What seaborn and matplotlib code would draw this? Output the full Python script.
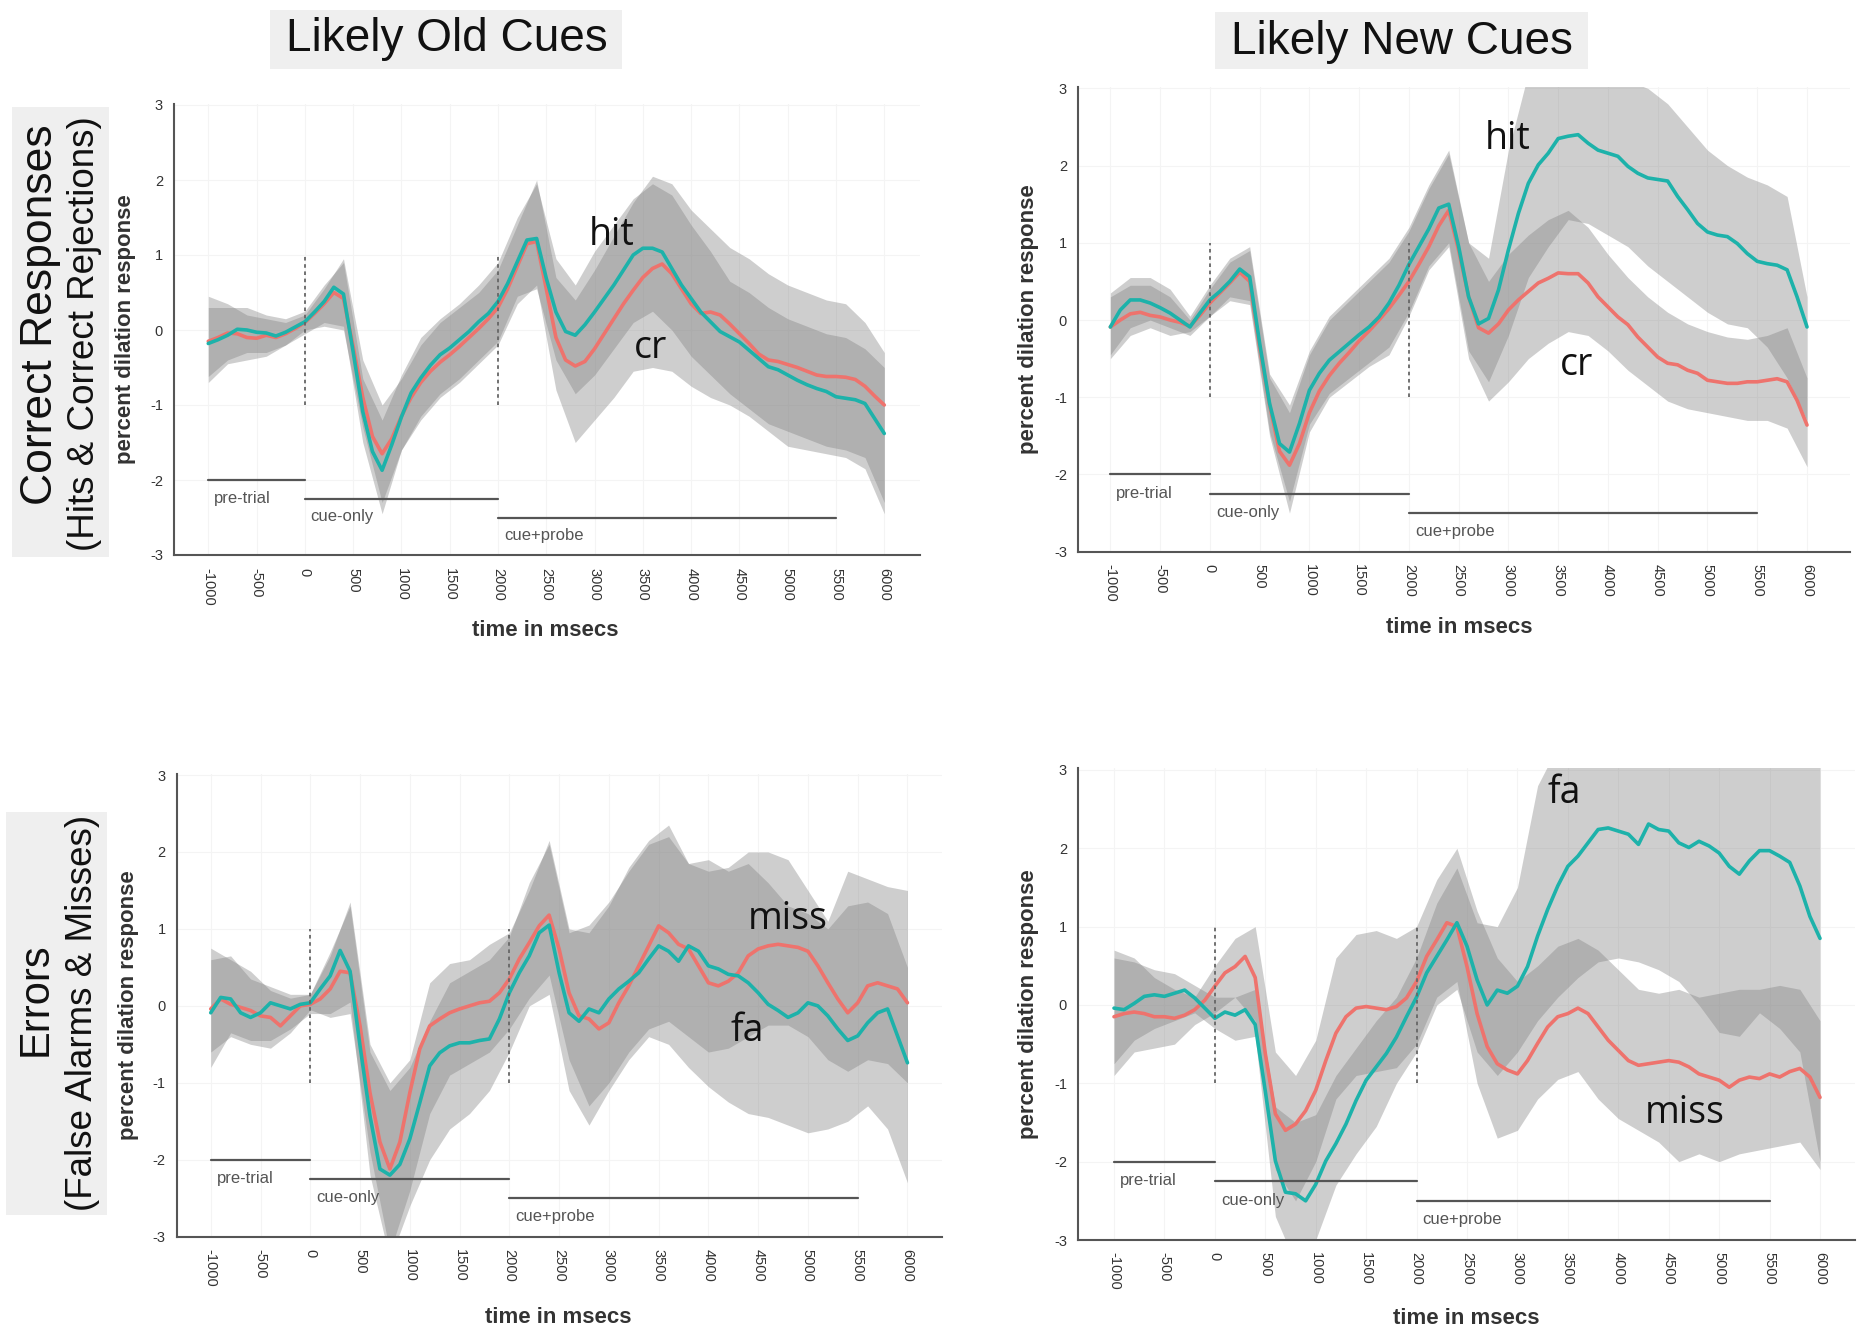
import numpy as np
import pandas as pd
import matplotlib
matplotlib.use("Agg")
import matplotlib.pyplot as plt
import seaborn as sns
from matplotlib.patches import Rectangle

sns.set_theme(style="white")
plt.rcParams['font.family'] = ['Liberation Sans', 'DejaVu Sans']

# ---------------- data ----------------
t_line = np.arange(-1000, 6001, 100)   # msec, mean traces
t_band = np.arange(-1000, 6001, 200)   # msec, confidence bands

# Likely Old cues - correct responses
old_hit = [-0.18,-0.13,-0.07,0.01,0.0,-0.03,-0.04,-0.08,-0.03,0.04,
           0.11,0.24,0.38,0.57,0.48,-0.29,-1.09,-1.62,-1.87,-1.53,
           -1.16,-0.84,-0.64,-0.47,-0.33,-0.24,-0.13,-0.02,0.11,0.22,
           0.38,0.62,0.91,1.2,1.22,0.69,0.24,-0.02,-0.07,0.07,
           0.24,0.42,0.6,0.8,1.0,1.09,1.09,1.04,0.82,0.6,
           0.42,0.24,0.11,-0.02,-0.09,-0.16,-0.27,-0.38,-0.49,-0.53,
           -0.6,-0.67,-0.73,-0.78,-0.82,-0.89,-0.91,-0.93,-0.98,-1.18,
           -1.38]
old_cr = [-0.15,-0.1,-0.04,-0.05,-0.1,-0.11,-0.07,-0.1,-0.05,0.02,
          0.1,0.22,0.35,0.5,0.42,-0.22,-0.9,-1.42,-1.65,-1.45,
          -1.15,-0.9,-0.7,-0.55,-0.43,-0.33,-0.22,-0.1,0.02,0.15,
          0.3,0.55,0.85,1.15,1.18,0.55,-0.1,-0.4,-0.48,-0.42,
          -0.25,-0.05,0.15,0.35,0.53,0.7,0.82,0.88,0.75,0.55,
          0.35,0.22,0.24,0.2,0.08,-0.05,-0.18,-0.32,-0.4,-0.42,
          -0.46,-0.5,-0.55,-0.6,-0.62,-0.62,-0.63,-0.66,-0.75,-0.88,
          -1.0]
old_hit_lo = [-0.62,-0.4,-0.3,-0.3,-0.2,-0.05,
              0.1,0.05,-1.5,-2.45,-1.6,-1.15,-0.85,-0.65,-0.4,-0.15,
              0.45,0.55,-0.4,-0.85,-0.6,-0.25,0.1,0.25,0.0,-0.35,-0.6,-0.85,-1.05,-1.25,-1.35,-1.45,-1.55,-1.6,-1.7,-2.3]
old_hit_hi = [0.3,0.3,0.3,0.2,0.15,0.25,
              0.6,0.9,-0.65,-1.2,-0.6,-0.1,0.15,0.35,0.6,0.9,
              1.5,1.95,0.95,0.6,1.05,1.4,1.75,1.95,1.8,1.4,1.05,0.65,0.5,0.3,0.15,0.05,-0.05,-0.1,-0.25,-0.5]
old_cr_lo = [-0.7,-0.45,-0.4,-0.35,-0.2,0.0,
             0.05,0.0,-1.3,-2.3,-1.6,-1.2,-0.9,-0.7,-0.45,-0.2,
             0.35,0.6,-0.8,-1.5,-1.2,-0.9,-0.55,-0.5,-0.55,-0.75,-0.9,-1.0,-1.15,-1.35,-1.55,-1.6,-1.65,-1.7,-1.85,-2.45]
old_cr_hi = [0.45,0.35,0.2,0.15,0.1,0.2,
             0.55,0.95,-0.4,-1.0,-0.65,-0.2,0.1,0.3,0.5,0.8,
             1.4,2.0,0.7,0.4,0.8,1.25,1.7,2.05,1.95,1.6,1.35,1.1,0.95,0.75,0.6,0.5,0.4,0.35,0.1,-0.3]

# Likely New cues - correct responses
new_hit = [-0.09,0.13,0.26,0.26,0.22,0.16,0.09,0.0,-0.09,0.09,
           0.26,0.37,0.5,0.66,0.56,-0.3,-1.08,-1.6,-1.71,-1.34,
           -0.91,-0.69,-0.52,-0.41,-0.3,-0.19,-0.09,0.04,0.22,0.45,
           0.72,0.95,1.18,1.45,1.5,0.95,0.3,-0.05,0.02,0.39,
           0.91,1.38,1.77,2.01,2.16,2.35,2.38,2.4,2.29,2.2,
           2.16,2.12,1.99,1.9,1.84,1.82,1.8,1.6,1.43,1.25,
           1.14,1.1,1.08,0.99,0.86,0.76,0.73,0.71,0.65,0.3,
           -0.09]
new_cr = [-0.09,0.0,0.08,0.1,0.06,0.04,0.0,-0.03,-0.08,0.06,
          0.22,0.35,0.48,0.62,0.5,-0.35,-1.1,-1.7,-1.88,-1.6,
          -1.2,-0.92,-0.72,-0.56,-0.42,-0.27,-0.14,0.0,0.15,0.32,
          0.5,0.72,0.95,1.22,1.42,0.9,0.3,-0.1,-0.17,-0.05,
          0.13,0.26,0.37,0.48,0.54,0.61,0.6,0.6,0.48,0.3,
          0.17,0.04,-0.06,-0.22,-0.35,-0.48,-0.56,-0.58,-0.65,-0.69,
          -0.78,-0.8,-0.82,-0.82,-0.8,-0.8,-0.78,-0.76,-0.8,-1.04,
          -1.36]
new_hit_lo = [-0.45,-0.1,0.0,-0.1,-0.2,0.05,
              0.3,0.25,-1.45,-2.35,-1.35,-0.95,-0.75,-0.55,-0.35,0.1,
              0.7,1.0,-0.4,-0.8,-0.2,0.55,0.95,1.3,1.25,1.1,0.95,0.7,0.5,0.3,0.1,-0.05,-0.1,-0.35,-0.75,-1.3]
new_hit_hi = [0.35,0.55,0.55,0.4,0.05,0.45,
              0.8,0.95,-0.7,-1.1,-0.4,0.05,0.3,0.55,0.8,1.2,
              1.75,2.2,1.0,0.8,2.2,3.2,3.5,3.5,3.4,3.3,3.1,3.0,2.8,2.5,2.2,2.0,1.85,1.75,1.6,0.3]
new_cr_lo = [-0.5,-0.2,-0.1,-0.2,-0.15,0.05,
             0.25,0.2,-1.5,-2.5,-1.45,-1.0,-0.8,-0.6,-0.45,0.05,
             0.65,0.95,-0.5,-1.05,-0.8,-0.5,-0.3,-0.15,-0.2,-0.4,-0.65,-0.85,-1.05,-1.15,-1.2,-1.25,-1.3,-1.3,-1.4,-1.9]
new_cr_hi = [0.3,0.45,0.45,0.3,0.0,0.4,
             0.75,0.9,-0.75,-1.2,-0.45,0.0,0.25,0.5,0.75,1.15,
             1.7,2.15,1.0,0.5,0.85,1.1,1.3,1.42,1.2,0.85,0.55,0.3,0.1,-0.05,-0.15,-0.22,-0.25,-0.2,-0.1,-0.75]

# Likely Old cues - errors
old_fa = [-0.09,0.11,0.09,-0.09,-0.15,-0.09,0.04,0.0,-0.04,0.02,
          0.04,0.22,0.39,0.72,0.45,-0.52,-1.43,-2.12,-2.2,-2.06,
          -1.73,-1.26,-0.78,-0.61,-0.52,-0.48,-0.48,-0.45,-0.43,-0.17,
          0.17,0.43,0.65,0.95,1.05,0.43,-0.09,-0.2,-0.04,-0.09,
          0.09,0.22,0.32,0.43,0.61,0.78,0.71,0.58,0.78,0.71,
          0.52,0.48,0.41,0.39,0.3,0.17,0.02,-0.06,-0.15,-0.09,
          0.04,0.0,-0.13,-0.3,-0.45,-0.39,-0.22,-0.09,-0.04,-0.39,
          -0.74]
old_miss = [-0.04,0.09,0.02,-0.02,-0.06,-0.13,-0.15,-0.26,-0.13,0.0,
            0.02,0.09,0.22,0.45,0.43,-0.26,-1.13,-1.77,-2.12,-1.77,
            -1.13,-0.56,-0.26,-0.17,-0.09,-0.04,0.0,0.04,0.06,0.17,
            0.35,0.61,0.82,1.04,1.18,0.74,0.17,-0.13,-0.17,-0.3,
            -0.22,0.04,0.26,0.52,0.78,1.04,0.95,0.8,0.74,0.52,
            0.3,0.26,0.32,0.43,0.65,0.74,0.78,0.8,0.78,0.76,
            0.71,0.52,0.3,0.09,-0.09,0.04,0.26,0.3,0.26,0.22,
            0.04]
old_fa_lo = [-0.8,-0.35,-0.45,-0.45,-0.3,-0.1,
             -0.1,0.05,-2.2,-3.3,-2.6,-2.0,-1.6,-1.4,-1.1,-0.6,
             0.0,0.15,-1.1,-1.55,-1.1,-0.7,-0.4,-0.5,-0.8,-1.05,-1.25,-1.4,-1.45,-1.55,-1.65,-1.6,-1.5,-1.3,-1.6,-2.3]
old_fa_hi = [0.6,0.65,0.35,0.25,0.15,0.15,
             0.7,1.3,-0.6,-1.1,-0.8,-0.2,0.3,0.45,0.6,0.9,
             1.6,2.1,0.95,1.05,1.35,1.75,2.1,2.2,1.85,1.9,1.75,1.85,1.6,1.3,1.2,1.0,1.3,1.35,1.2,0.5]
old_miss_lo = [-0.6,-0.4,-0.5,-0.55,-0.35,-0.05,
               -0.15,-0.1,-1.9,-3.2,-2.4,-1.4,-0.9,-0.75,-0.6,-0.3,
               0.1,0.4,-0.7,-1.3,-1.0,-0.6,-0.3,-0.2,-0.4,-0.6,-0.55,-0.4,-0.25,-0.25,-0.4,-0.7,-0.85,-0.7,-0.75,-1.0]
old_miss_hi = [0.75,0.6,0.45,0.2,0.1,0.15,
               0.65,1.35,-0.5,-1.0,-0.7,0.3,0.55,0.6,0.8,0.95,
               1.5,2.15,1.0,0.95,1.3,1.8,2.15,2.35,1.85,1.75,1.8,2.0,2.0,1.9,1.5,1.1,1.75,1.65,1.55,1.5]

# Likely New cues - errors
new_fa = [-0.04,-0.06,0.02,0.11,0.13,0.11,0.15,0.19,0.09,-0.04,
          -0.17,-0.09,-0.13,-0.06,-0.25,-1.1,-1.99,-2.39,-2.41,-2.5,
          -2.29,-1.99,-1.77,-1.52,-1.22,-0.96,-0.79,-0.62,-0.41,-0.15,
          0.1,0.41,0.62,0.83,1.05,0.75,0.32,0.0,0.19,0.15,
          0.24,0.49,0.88,1.22,1.52,1.77,1.9,2.07,2.24,2.26,
          2.22,2.18,2.05,2.31,2.24,2.22,2.07,2.01,2.09,2.03,
          1.94,1.77,1.67,1.84,1.97,1.97,1.9,1.82,1.52,1.13,
          0.85]
new_miss = [-0.15,-0.11,-0.09,-0.11,-0.15,-0.15,-0.17,-0.13,-0.06,0.06,
            0.24,0.41,0.49,0.62,0.35,-0.62,-1.39,-1.6,-1.52,-1.35,
            -1.09,-0.71,-0.36,-0.15,-0.04,-0.02,-0.04,-0.06,-0.02,0.09,
            0.3,0.62,0.83,1.05,1.0,0.49,-0.11,-0.53,-0.75,-0.83,
            -0.88,-0.71,-0.49,-0.28,-0.15,-0.11,-0.04,-0.11,-0.28,-0.45,
            -0.58,-0.71,-0.77,-0.75,-0.73,-0.71,-0.73,-0.79,-0.88,-0.92,
            -0.96,-1.05,-0.96,-0.92,-0.94,-0.88,-0.92,-0.85,-0.81,-0.92,
            -1.18]
new_fa_lo = [-0.75,-0.45,-0.3,-0.2,-0.1,-0.3,
             -0.45,-0.4,-2.7,-3.3,-3.0,-2.3,-1.9,-1.55,-1.0,-0.6,
             0.0,0.2,-0.6,-0.9,-0.6,-0.2,0.1,0.35,0.55,0.6,0.55,0.45,0.3,0.0,-0.35,-0.4,-0.1,-0.3,-0.6,-2.0]
new_fa_hi = [0.6,0.55,0.45,0.4,0.25,0.1,
             0.1,0.2,-1.3,-1.5,-1.4,-0.9,-0.55,-0.2,0.1,0.6,
             1.3,1.75,1.05,1.0,1.5,2.8,3.3,3.3,3.3,3.3,3.3,3.3,3.3,3.3,3.3,3.3,3.3,3.3,3.3,3.3]
new_miss_lo = [-0.9,-0.6,-0.55,-0.5,-0.25,-0.1,
               0.1,-0.2,-2.1,-2.5,-2.0,-1.2,-0.9,-0.85,-0.8,-0.5,
               0.1,0.3,-1.0,-1.7,-1.6,-1.2,-0.95,-0.85,-1.2,-1.45,-1.6,-1.75,-2.0,-1.9,-2.0,-1.9,-1.85,-1.8,-1.75,-2.1]
new_miss_hi = [0.7,0.6,0.35,0.2,0.1,0.5,
               0.85,1.0,-0.6,-0.9,-0.45,0.6,0.9,0.95,0.85,1.0,
               1.6,2.0,1.2,0.6,0.3,0.5,0.75,0.85,0.7,0.45,0.2,0.15,0.2,0.1,0.15,0.2,0.2,0.25,0.2,-0.2]

# trial phases
phase_names = ["pre-trial", "cue-only", "cue+probe"]
phase_start = [-1000, 0, 2000]
phase_end = [0, 2000, 5500]
phase_level = [-2.0, -2.25, -2.5]
onsets = [0, 2000]

x_ticks = np.arange(-1000, 6001, 500)
y_ticks = [-3, -2, -1, 0, 1, 2, 3]

col_titles = ["Likely Old Cues", "Likely New Cues"]
row_titles = [("Correct Responses", "(Hits & Correct Rejections)"),
              ("Errors", "(False Alarms & Misses)")]

# ---------------- style ----------------
RED = "#EE736D"
TEAL = "#1DB2AA"
BAND = "#808080"
W, H = 1858, 1333

fig = plt.figure(figsize=(W / 100, H / 100), dpi=100)

def fx(px):
    return px / W

def fy(py):
    return 1 - py / H

panels = [
    dict(box=(174, 103.5, 920, 555), xlim=(-1355, 6370),
         red=old_cr, teal=old_hit, rlo=old_cr_lo, rhi=old_cr_hi, tlo=old_hit_lo, thi=old_hit_hi,
         labels=[("hit", 3180, 1.27), ("cr", 3580, -0.24)], ylab=-0.051, xlab=(0.497, -0.144)),
    dict(box=(1078, 86.8, 1850, 551.7), xlim=(-1325, 6432),
         red=new_cr, teal=new_hit, rlo=new_cr_lo, rhi=new_cr_hi, tlo=new_hit_lo, thi=new_hit_hi,
         labels=[("hit", 2990, 2.34), ("cr", 3680, -0.58)], ylab=-0.0505, xlab=(0.4935, -0.141)),
    dict(box=(176.7, 773.5, 942, 1236.7), xlim=(-1342, 6347),
         red=old_miss, teal=old_fa, rlo=old_miss_lo, rhi=old_miss_hi, tlo=old_fa_lo, thi=old_fa_hi,
         labels=[("miss", 4800, 1.13), ("fa", 4390, -0.33)], ylab=-0.049, xlab=(0.498, -0.151)),
    dict(box=(1078, 768.4, 1855, 1240), xlim=(-1357, 6347),
         red=new_miss, teal=new_fa, rlo=new_miss_lo, rhi=new_miss_hi, tlo=new_fa_lo, thi=new_fa_hi,
         labels=[("fa", 3460, 2.7), ("miss", 4655, -1.38)], ylab=-0.05, xlab=(0.5, -0.145)),
]

for p in panels:
    x0, y0, x1, y1 = p["box"]
    ax = fig.add_axes([fx(x0), fy(y1), (x1 - x0) / W, (y1 - y0) / H])
    ax.set_facecolor("white")
    ax.grid(True, color="#f4f4f4", lw=0.8)
    ax.fill_between(t_band, p["tlo"], p["thi"], color=BAND, alpha=0.38, lw=0, zorder=1)
    ax.fill_between(t_band, p["rlo"], p["rhi"], color=BAND, alpha=0.38, lw=0, zorder=1)

    df = pd.DataFrame({
        "time": np.concatenate([t_line, t_line]),
        "value": np.concatenate([p["red"], p["teal"]]),
        "cond": ["red"] * len(t_line) + ["teal"] * len(t_line),
    })
    sns.lineplot(data=df, x="time", y="value", hue="cond",
                 palette={"red": RED, "teal": TEAL}, lw=2.6, ax=ax,
                 legend=False, zorder=3)

    ax.vlines(onsets, -1, 1, colors="#666666", linestyles=(0, (2, 2)), lw=1.3, zorder=4)
    for name, s, e, lev in zip(phase_names, phase_start, phase_end, phase_level):
        ax.plot([s, e], [lev, lev], color="#555555", lw=1.6, zorder=4)
        ax.text(s + 60, lev - 0.24, name, fontsize=12, color="#555555",
                ha="left", va="center", zorder=4)

    for txt, tx, ty in p["labels"]:
        ax.text(tx, ty, txt, fontsize=27, family=["Open Sans", "DejaVu Sans"],
                color="#111111", ha="center", va="center", zorder=5)

    ax.set_xlim(*p["xlim"])
    ax.set_ylim(-3, 3.02)
    ax.set_xticks(x_ticks)
    ax.set_xticklabels([str(v) for v in x_ticks], rotation=-90)
    ax.set_yticks(y_ticks)
    ax.set_yticklabels([str(v) for v in y_ticks])
    ax.tick_params(axis="both", length=4, width=1, color="#555555",
                   labelsize=10.5, labelcolor="#333333", direction="out")
    ax.tick_params(axis="x", pad=5)
    ax.tick_params(axis="y", pad=4)
    for s in ["top", "right"]:
        ax.spines[s].set_visible(False)
    for s in ["left", "bottom"]:
        ax.spines[s].set_color("#555555")
        ax.spines[s].set_linewidth(1.5)

    ax.set_ylabel("percent dilation response", fontsize=16, fontweight="bold", color="#333333")
    ax.yaxis.set_label_coords(p["ylab"], 0.5)
    ax.set_xlabel("time in msecs", fontsize=16, fontweight="bold", color="#333333")
    ax.xaxis.set_label_coords(*p["xlab"])

# column titles with light boxes
title_boxes = [(270, 9.5, 622, 69), (1215, 12, 1588, 69)]
title_centers = [(447, 39), (1402, 41.5)]
for (bx0, by0, bx1, by1), (cx, cy), txt in zip(title_boxes, title_centers, col_titles):
    fig.patches.append(Rectangle((fx(bx0), fy(by1)), (bx1 - bx0) / W, (by1 - by0) / H,
                                 transform=fig.transFigure, facecolor="#efefef",
                                 edgecolor="none", zorder=0))
    fig.text(fx(cx), fy(cy), txt, fontsize=33, color="#111111", ha="center", va="center")

# row titles with light boxes
row_boxes = [(12, 107, 109, 557), (6, 812, 107, 1215)]
row_main = [(41, 315), (36, 999)]
row_sub = [(85, 334), (83, 1013)]
row_main_size = [32, 30]
for (bx0, by0, bx1, by1), (mx, my), (sx, sy), (t1, t2), ms in zip(row_boxes, row_main, row_sub, row_titles, row_main_size):
    fig.patches.append(Rectangle((fx(bx0), fy(by1)), (bx1 - bx0) / W, (by1 - by0) / H,
                                 transform=fig.transFigure, facecolor="#efefef",
                                 edgecolor="none", zorder=0))
    fig.text(fx(mx), fy(my), t1, fontsize=ms, rotation=90, color="#111111", ha="center", va="center")
    fig.text(fx(sx), fy(sy), t2, fontsize=26.5, rotation=90, color="#111111", ha="center", va="center")

fig.savefig("out.png", dpi=100)
